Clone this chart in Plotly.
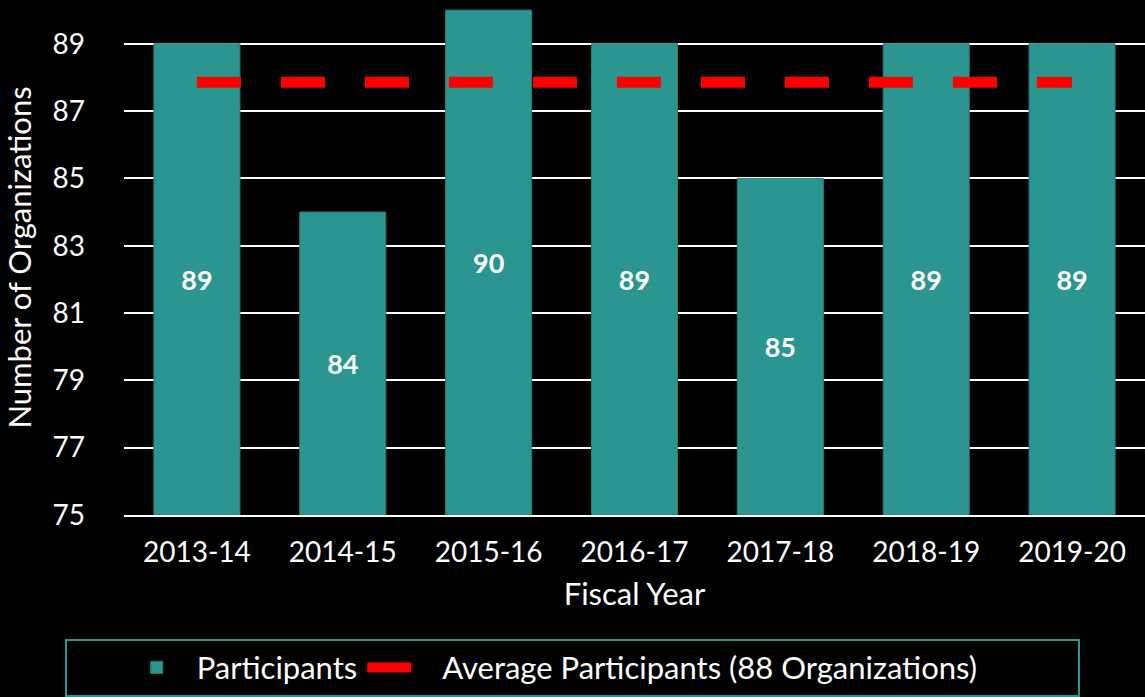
import plotly.graph_objects as go

years = ["2013-14", "2014-15", "2015-16", "2016-17", "2017-18", "2018-19", "2019-20"]
participants = [89, 84, 90, 89, 85, 89, 89]
y_ticks = [75, 77, 79, 81, 83, 85, 87, 89]
axis_floor = 75
average = sum(participants) / len(participants)

TEAL = "#2A968F"
FONT = "Lato"
NBSP = "\u00a0"

fig = go.Figure()
fig.add_trace(go.Bar(
    x=years, y=[v - axis_floor for v in participants], base=[axis_floor] * len(years),
    name="Participants",
    marker=dict(color=TEAL, line=dict(color="#237f79", width=1)),
    text=[str(v) for v in participants], textposition="inside",
    insidetextanchor="middle", textangle=0,
    textfont=dict(family=FONT, size=27, color="white", weight="bold"),
    hovertemplate="%{x}: %{text}<extra></extra>",
))
fig.add_trace(go.Scatter(
    x=years, y=[average] * len(years), mode="lines",
    name="Average Participants (88 Organizations)" + NBSP * 12,
    line=dict(color="#FF0000", width=11, dash="44px,40px"),
))

fig.update_layout(
    width=1145, height=697,
    paper_bgcolor="black", plot_bgcolor="black",
    margin=dict(l=124, r=0, t=0, b=182),
    bargap=0.41,
    font=dict(family=FONT, color="white", size=28),
    showlegend=True,
    legend=dict(
        orientation="h", xref="container", yref="container",
        x=0.5, xanchor="center", y=0.042, yanchor="middle",
        bordercolor=TEAL, borderwidth=2, bgcolor="black",
        font=dict(family=FONT, size=31, color="white"),
        itemwidth=70,
        title=dict(text=NBSP * 5, side="left", font=dict(family=FONT, size=31)),
        traceorder="normal",
    ),
    xaxis=dict(
        title=dict(text="Fiscal Year", font=dict(size=31), standoff=17),
        showline=True, linecolor="white", linewidth=2,
        showgrid=False, ticks="", ticklabelstandoff=11,
        tickfont=dict(size=28),
    ),
    yaxis=dict(
        title=dict(text="Number of Organizations", font=dict(size=31), standoff=20),
        range=[75, 90.3], tickvals=y_ticks,
        showgrid=True, gridcolor="white", gridwidth=1.5,
        zeroline=False, ticks="", ticklabelstandoff=38,
        tickfont=dict(size=28),
    ),
)

fig.write_html(
    "out.html",
    config={"displayModeBar": False},
    post_script="document.body.style.margin='0';document.body.style.background='black';",
)
